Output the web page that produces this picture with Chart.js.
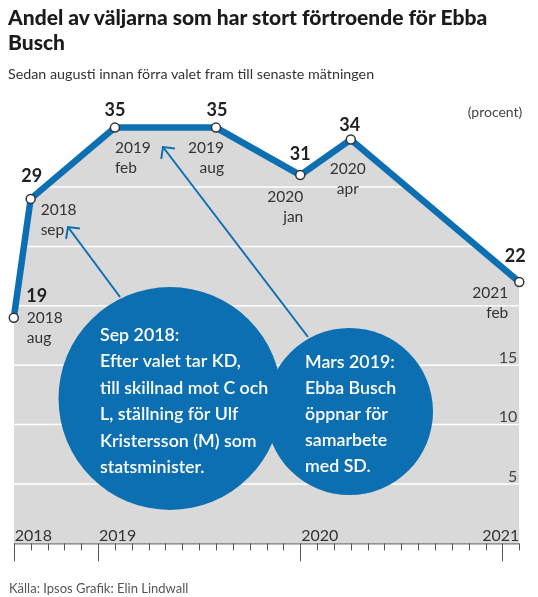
<!DOCTYPE html>
<html>
<head>
<meta charset="utf-8">
<script src="https://cdn.jsdelivr.net/npm/chart.js@4.4.1/dist/chart.umd.min.js"></script>
<style>
  body { margin: 0; background: #fff; font-family: Lato, sans-serif; }
  #wrap { position: relative; width: 538px; height: 597px; overflow: hidden; }
  canvas { position: absolute; left: 0; top: 0; }
  .titel { position: absolute; left: 8px; top: 4px; font-weight: 900; font-size: 21px; line-height: 25px; color: #1b1b1b; }
  .under { position: absolute; left: 8px; top: 65px; font-size: 14.3px; color: #333; }
  .kalla { position: absolute; left: 9px; top: 580px; font-size: 13px; color: #555; }
</style>
</head>
<body>
<div id="wrap">
  <canvas id="graf" width="538" height="597"></canvas>
  <div class="titel">Andel av väljarna som har stort förtroende för Ebba<br>Busch</div>
  <div class="under">Sedan augusti innan förra valet fram till senaste mätningen</div>
  <div class="kalla">Källa: Ipsos Grafik: Elin Lindwall</div>
</div>
<script>
  // data
  const ar = ['2018', '2018', '2019', '2019', '2020', '2020', '2021'];
  const manader = ['aug', 'sep', 'feb', 'aug', 'jan', 'apr', 'feb'];
  const varden = [19, 29, 35, 35, 31, 34, 22];
  const arEtiketter = ['2018', '2019', '2020', '2021'];
  const yEtiketter = [5, 10, 15];

  const manadNr = { jan: 1, feb: 2, mar: 3, apr: 4, maj: 5, jun: 6, jul: 7, aug: 8, sep: 9, okt: 10, nov: 11, dec: 12 };
  // månader räknat från aug 2018
  function manadIndex(a, m) { return (Number(a) - 2018) * 12 + manadNr[m] - 8; }
  const punkter = varden.map((v, i) => ({ x: manadIndex(ar[i], manader[i]), y: v }));
  const sista = punkter[punkter.length - 1].x;

  const bla = '#0c6fb2';
  const gra = '#d9d9d9';

  // var etiketterna hamnar runt punkten (px)
  const etikettLayout = [
    { vx: 23, vb: -16, dx: 13, db: 5, justera: 'left' },
    { vx: 1, vb: -17, dx: 10, db: 16, justera: 'left' },
    { vx: 0, vb: -12, dx: 0, db: 25, justera: 'left' },
    { vx: 1, vb: -12, dx: 8, db: 25, justera: 'right' },
    { vx: 0, vb: -15.5, dx: 3, db: 26.5, justera: 'right' },
    { vx: -1, vb: -8, dx: -3, db: 35, justera: 'center' },
    { vx: -4, vb: -20, dx: -11, db: 16, justera: 'right' }
  ];

  const bubblor = [
    { cx: 170, cy: 398.5, r: 111.5, tx: 100, ty: 341, rad: 26.4,
      text: ['Sep 2018:', 'Efter valet tar KD,', 'till skillnad mot C och', 'L, ställning för Ulf', 'Kristersson (M) som', 'statsminister.'] },
    { cx: 349.5, cy: 411.5, r: 83.5, tx: 305, ty: 368.3, rad: 25.9,
      text: ['Mars 2019:', 'Ebba Busch', 'öppnar för', 'samarbete', 'med SD.'] }
  ];
  const pilar = [
    { fran: [120, 297], till: [68, 227] },
    { fran: [308, 337], till: [163, 147] }
  ];

  function ritaPil(ctx, p) {
    const [x1, y1] = p.fran, [x2, y2] = p.till;
    const vinkel = Math.atan2(y1 - y2, x1 - x2);
    ctx.beginPath();
    ctx.moveTo(x1, y1); ctx.lineTo(x2, y2);
    ctx.stroke();
    ctx.beginPath();
    ctx.moveTo(x2 + 12 * Math.cos(vinkel - 0.8), y2 + 12 * Math.sin(vinkel - 0.8));
    ctx.lineTo(x2, y2);
    ctx.lineTo(x2 + 12 * Math.cos(vinkel + 0.8), y2 + 12 * Math.sin(vinkel + 0.8));
    ctx.stroke();
  }

  const ritaPlugin = {
    id: 'rita',
    afterDatasetDraw(chart, args) {
      if (args.index !== 0) return;
      const { ctx, chartArea: a, scales: { y } } = chart;
      ctx.save();
      ctx.strokeStyle = '#fff';
      ctx.lineWidth = 1.5;
      for (let v = 5; v <= 35; v += 5) {
        const py = y.getPixelForValue(v);
        ctx.beginPath(); ctx.moveTo(a.left, py); ctx.lineTo(a.right, py); ctx.stroke();
      }
      ctx.restore();
    },
    afterDatasetsDraw(chart) {
      const { ctx, chartArea: a, scales: { x, y } } = chart;
      ctx.save();

      // y-etiketter
      ctx.fillStyle = '#444';
      ctx.font = '16px Lato';
      ctx.textAlign = 'right';
      ctx.textBaseline = 'alphabetic';
      yEtiketter.forEach(v => ctx.fillText(String(v), a.right - 2, y.getPixelForValue(v) - 2.5));
      ctx.font = '14px Lato';
      ctx.fillText('(procent)', a.right + 3, 116.5);

      // x-axel
      const noll = y.getPixelForValue(0);
      ctx.strokeStyle = '#555';
      ctx.lineWidth = 1;
      ctx.beginPath(); ctx.moveTo(a.left, noll + 0.5); ctx.lineTo(a.right, noll + 0.5); ctx.stroke();
      const storaTick = arEtiketter.map(t => Math.max(0, manadIndex(t, 'jan')));
      for (let m = 0; m <= sista; m++) {
        const px = Math.round(x.getPixelForValue(m)) + 0.5;
        const len = storaTick.includes(m) ? 18 : 7;
        ctx.beginPath(); ctx.moveTo(px, noll); ctx.lineTo(px, noll + len); ctx.stroke();
      }
      ctx.fillStyle = '#333';
      ctx.font = '16px Lato';
      ctx.textAlign = 'left';
      arEtiketter.forEach((t, i) => {
        let px = x.getPixelForValue(storaTick[i]) + 1;
        const w = ctx.measureText(t).width;
        if (px + w > a.right) px = a.right - w;
        ctx.fillText(t, px, noll - 2);
      });

      // pilar och bubblor
      ctx.strokeStyle = bla;
      ctx.lineWidth = 2;
      pilar.forEach(p => ritaPil(ctx, p));
      ctx.fillStyle = bla;
      bubblor.forEach(b => { ctx.beginPath(); ctx.arc(b.cx, b.cy, b.r, 0, Math.PI * 2); ctx.fill(); });
      ctx.fillStyle = '#fff';
      ctx.font = '600 17.8px Lato';
      ctx.textAlign = 'left';
      bubblor.forEach(b => b.text.forEach((rad, i) => ctx.fillText(rad, b.tx, b.ty + i * b.rad)));

      // punktetiketter
      punkter.forEach((p, i) => {
        const px = x.getPixelForValue(p.x), py = y.getPixelForValue(p.y);
        const l = etikettLayout[i];
        ctx.fillStyle = '#222';
        ctx.font = 'bold 18px Lato';
        ctx.textAlign = 'center';
        ctx.fillText(String(varden[i]), px + l.vx, py + l.vb);
        ctx.fillStyle = '#333';
        ctx.font = '15.5px Lato';
        ctx.textAlign = l.justera;
        ctx.fillText(ar[i], px + l.dx, py + l.db);
        ctx.fillText(manader[i], px + l.dx, py + l.db + 20);
      });
      ctx.restore();
    }
  };

  new Chart(document.getElementById('graf'), {
    type: 'line',
    data: {
      datasets: [
        {
          data: punkter,
          fill: 'origin',
          backgroundColor: gra,
          borderWidth: 0,
          pointRadius: 0,
          order: 2
        },
        {
          data: punkter,
          fill: false,
          borderColor: bla,
          borderWidth: 6.5,
          borderJoinStyle: 'miter',
          tension: 0,
          pointRadius: 4.5,
          pointBackgroundColor: '#fff',
          pointBorderColor: '#333',
          pointBorderWidth: 1.5,
          clip: false,
          order: 1
        }
      ]
    },
    options: {
      responsive: false,
      animation: false,
      layout: { padding: { left: 13.8, right: 18.7, top: 68.2, bottom: 53.6 } },
      plugins: { legend: { display: false }, tooltip: { enabled: false } },
      scales: {
        x: { type: 'linear', min: 0, max: sista, display: false },
        y: { min: 0, max: 40, display: false }
      }
    },
    plugins: [ritaPlugin]
  });
</script>
</body>
</html>
